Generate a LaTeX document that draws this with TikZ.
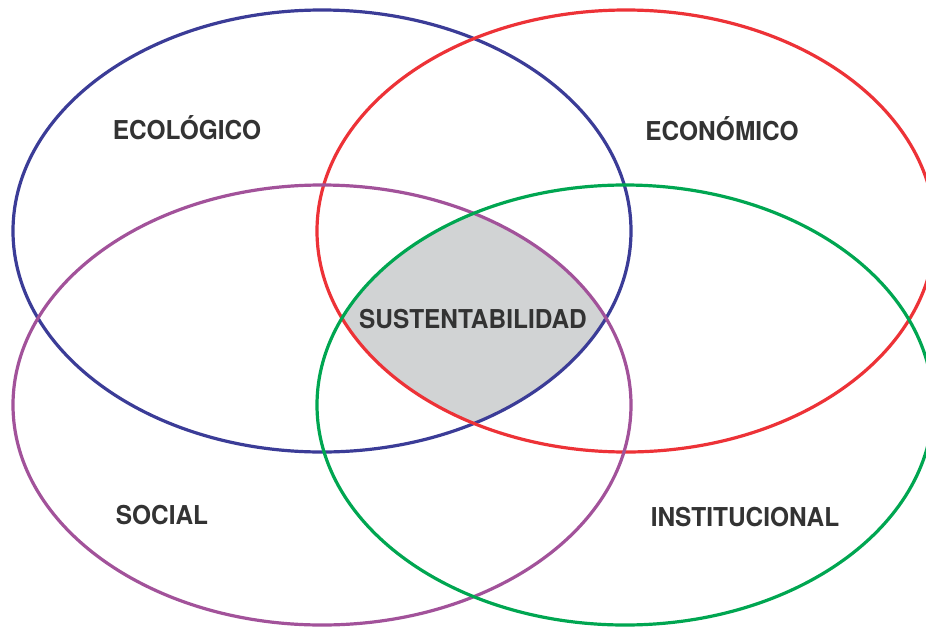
\documentclass[tikz,border=0pt]{standalone}
\usepackage{fontspec}
\newfontfamily\labfont{TeX Gyre Heros}[FakeStretch=0.94]
\definecolor{cblue}{HTML}{3B3C97}
\definecolor{cred}{HTML}{ED3237}
\definecolor{cpurple}{HTML}{A2529A}
\definecolor{cgreen}{HTML}{00A651}
\definecolor{cfill}{HTML}{D1D3D4}
\definecolor{ctext}{HTML}{333333}
\tikzset{
  ring/.style={line width=3.2pt},
  lab/.style={inner sep=0pt, anchor=base, text=ctext, font=\labfont\bfseries\fontsize{26}{28}\selectfont}
}
\begin{document}
\begin{tikzpicture}[x=1pt,y=-1pt]
\useasboundingbox (0,0) rectangle (926,627);
\fill[white] (0,0) rectangle (926,627);
\begin{scope}
  \clip (322,231) ellipse [x radius=309pt, y radius=221pt];
  \clip (626,231) ellipse [x radius=309pt, y radius=221pt];
  \clip (322,405) ellipse [x radius=309pt, y radius=220pt];
  \fill[cfill] (625,405) ellipse [x radius=308pt, y radius=220pt];
\end{scope}
\draw[ring, cblue]   (322,231) ellipse [x radius=309pt, y radius=221pt];
\draw[ring, cred]    (626,231) ellipse [x radius=309pt, y radius=221pt];
\draw[ring, cpurple] (322,405) ellipse [x radius=309pt, y radius=220pt];
\draw[ring, cgreen]  (625,405) ellipse [x radius=308pt, y radius=220pt];
\node[lab] (eco) at (187,139.5) {ECOLÓGICO};
\node[lab] (econ) at (722,140) {ECONÓMICO};
\node[lab] (sus) at (473,328) {SUSTENTABILIDAD};
\node[lab] (soc) at (162,524) {SOCIAL};
\node[lab] (inst) at (745,526) {INSTITUCIONAL};
\end{tikzpicture}
\end{document}
